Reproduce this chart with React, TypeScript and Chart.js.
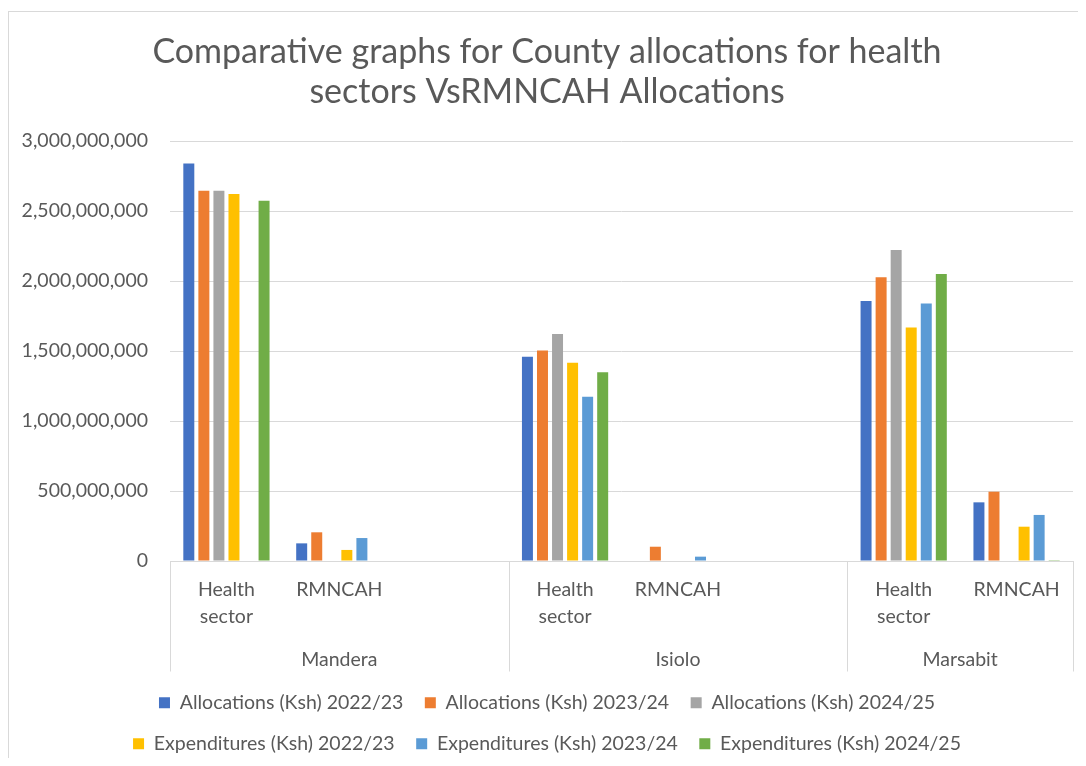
import React, { useEffect, useRef } from "react";
import { Chart, registerables } from "chart.js";

Chart.register(...registerables);

// ---- Data ----
const categories: (string | string[])[] = [
  ["Health", "sector"], "RMNCAH", "",
  ["Health", "sector"], "RMNCAH", "",
  ["Health", "sector"], "RMNCAH",
];
const counties = ["Mandera", "Isiolo", "Marsabit"];
const countySizes = [3, 3, 2];

const seriesNames = [
  "Allocations (Ksh) 2022/23",
  "Allocations (Ksh) 2023/24",
  "Allocations (Ksh) 2024/25",
  "Expenditures (Ksh) 2022/23",
  "Expenditures (Ksh) 2023/24",
  "Expenditures (Ksh) 2024/25",
];

const alloc2223 = [2840000000, 126000000, null, 1459000000, 0, null, 1857000000, 419000000];
const alloc2324 = [2645000000, 205000000, null, 1504000000, 102000000, null, 2027000000, 495000000];
const alloc2425 = [2645000000, 0, null, 1622000000, 0, null, 2221000000, 0];
const exp2223 = [2621000000, 79000000, null, 1416000000, 0, null, 1667000000, 245000000];
const exp2324 = [0, 164000000, null, 1174000000, 31000000, null, 1840000000, 329000000];
const exp2425 = [2574000000, 0, null, 1348000000, 0, null, 2050000000, 6000000];

const seriesValues = [alloc2223, alloc2324, alloc2425, exp2223, exp2324, exp2425];
const seriesColors = ["#4472C4", "#ED7D31", "#A5A5A5", "#FFC000", "#5B9BD5", "#70AD47"];

const yMin = 0;
const yMax = 3000000000;
const yStep = 500000000;

const titleLines = [
  "Comparative graphs for County allocations for health",
  "sectors VsRMNCAH Allocations",
];

// ---- Derived group positions (category index space) ----
const countyStarts = countySizes.map((_, i) => countySizes.slice(0, i).reduce((a, b) => a + b, 0));
const countyCenters = countyStarts.map((s, i) => s + (countySizes[i] - 1) / 2);
const countyBounds = [...countyStarts.map((s) => s - 0.5), countySizes.reduce((a, b) => a + b, 0) - 0.5];

const TEXT = "#595959";
const GRID = "#d9d9d9";
const FONT = "Lato, 'Open Sans', sans-serif";
const LABEL_SIZE = 19.5;
const PAD_LEFT = 12;

const separatorPlugin = {
  id: "groupSeparators",
  afterDraw(chart: any) {
    const x = chart.scales.x;
    const x2 = chart.scales.x2;
    const ctx = chart.ctx;
    ctx.save();
    ctx.strokeStyle = GRID;
    ctx.lineWidth = 1;
    ctx.beginPath();
    countyBounds.forEach((b) => {
      const px = Math.round(x.getPixelForValue(b)) + 0.5;
      ctx.moveTo(px, x.top);
      ctx.lineTo(px, x2.bottom);
    });
    ctx.stroke();
    ctx.restore();
  },
};

export default function App() {
  const canvasRef = useRef<HTMLCanvasElement | null>(null);

  useEffect(() => {
    document.body.style.overflow = "hidden";
    const canvas = canvasRef.current;
    if (!canvas) return;
    const chart = new Chart(canvas, {
      type: "bar",
      data: {
        labels: categories as any,
        datasets: seriesNames.map((name, i) => ({
          label: name,
          data: seriesValues[i] as any,
          backgroundColor: seriesColors[i],
          borderWidth: 0,
          categoryPercentage: 0.8,
          barPercentage: 0.73,
          xAxisID: "x",
          yAxisID: "y",
        })),
      },
      options: {
        responsive: false,
        animation: false,
        layout: { padding: { left: PAD_LEFT, right: 28, top: 0, bottom: 2.5 } },
        plugins: {
          title: {
            display: true,
            text: titleLines,
            color: TEXT,
            font: { family: FONT, size: 34, weight: "normal", lineHeight: 40 / 34 },
            padding: { top: 20, bottom: 29 },
          },
          legend: {
            display: true,
            position: "bottom",
            labels: {
              color: TEXT,
              font: { family: FONT, size: LABEL_SIZE },
              boxWidth: 11,
              boxHeight: 11,
              padding: 21.5,
            },
          },
          tooltip: { enabled: false },
        },
        scales: {
          x: {
            type: "category",
            position: "bottom",
            offset: true,
            grid: { display: false, drawTicks: false },
            border: { display: true, color: GRID },
            afterFit: (s: any) => {
              s.height = 80;
            },
            ticks: {
              autoSkip: false,
              maxRotation: 0,
              padding: 15.5,
              color: TEXT,
              font: { family: FONT, size: LABEL_SIZE, lineHeight: 27 / LABEL_SIZE },
            },
          },
          x2: {
            type: "linear",
            position: "bottom",
            weight: 1,
            min: countyBounds[0],
            max: countyBounds[countyBounds.length - 1],
            offset: false,
            grid: { display: false, drawTicks: false, offset: false },
            border: { display: false },
            afterBuildTicks: (s: any) => {
              s.ticks = countyCenters.map((v) => ({ value: v }));
            },
            afterFit: (s: any) => {
              s.height = 30.5;
            },
            ticks: {
              autoSkip: false,
              maxRotation: 0,
              padding: 5.5,
              color: TEXT,
              font: { family: FONT, size: LABEL_SIZE, lineHeight: 27 / LABEL_SIZE },
              callback: (v: any) => {
                const idx = countyCenters.indexOf(Number(v));
                return idx >= 0 ? counties[idx] : "";
              },
            },
          },
          y: {
            type: "linear",
            min: yMin,
            max: yMax,
            afterFit: (s: any) => {
              s.width = 161 - PAD_LEFT;
            },
            grid: { color: GRID, drawTicks: false },
            border: { display: false },
            ticks: {
              stepSize: yStep,
              padding: 22,
              color: TEXT,
              font: { family: FONT, size: LABEL_SIZE },
              callback: (v: any) => Number(v).toLocaleString("en-US"),
            },
          },
        },
      } as any,
      plugins: [separatorPlugin],
    });
    return () => chart.destroy();
  }, []);

  return (
    <div style={{ width: 1078, height: 750, overflow: "hidden", paddingTop: 3, boxSizing: "border-box" }}>
      <div style={{ width: 1093, borderTop: `1px solid ${GRID}`, borderLeft: `1px solid ${GRID}` }}>
        <canvas ref={canvasRef} width={1092} height={754} style={{ display: "block", width: 1092, height: 754 }} />
      </div>
    </div>
  );
}
